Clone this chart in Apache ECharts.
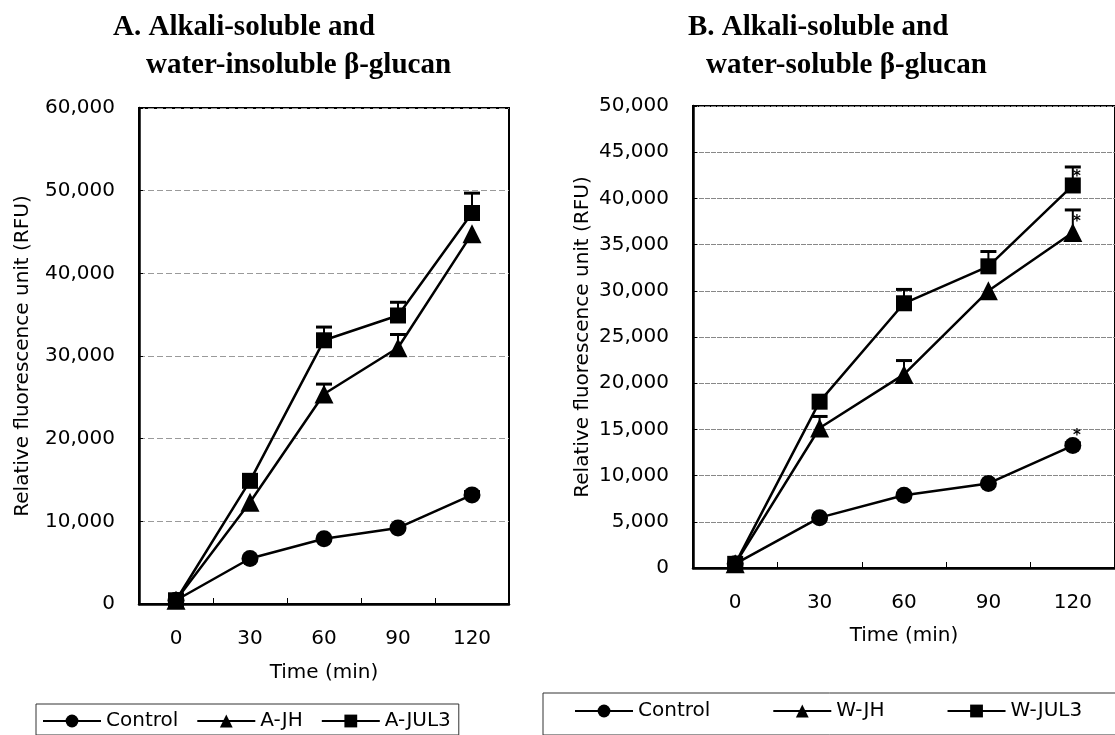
<!DOCTYPE html>
<html><head><meta charset="utf-8">
<script src="https://cdn.jsdelivr.net/npm/echarts@6/dist/echarts.min.js"></script>
<style>html,body{margin:0;padding:0;background:#fff}#c{width:1115px;height:735px}</style>
</head><body><div id="c"></div>
<script>
// ---- data ----
const TIMES = ['0', '30', '60', '90', '120'];

const A_NAMES = ['Control', 'A-JH', 'A-JUL3'];
const A_CONTROL = [450, 5500, 7900, 9200, 13200];
const A_JH = [450, 12300, 25400, 31000, 44800];
const A_JUL3 = [450, 14900, 31900, 34900, 47300];
const A_CONTROL_ERR = [0, 0, 0, 0, 400];
const A_JH_ERR = [0, 0, 1200, 1600, 0];
const A_JUL3_ERR = [0, 0, 1600, 1600, 2400];

const B_NAMES = ['Control', 'W-JH', 'W-JUL3'];
const B_CONTROL = [450, 5450, 7870, 9150, 13250];
const B_JH = [450, 15150, 20950, 30000, 36300];
const B_JUL3 = [450, 18000, 28650, 32650, 41400];
const B_CONTROL_ERR = [0, 0, 0, 0, 300];
const B_JH_ERR = [0, 1250, 1500, 0, 2450];
const B_JUL3_ERR = [0, 0, 1500, 1600, 2000];
const B_SIG = ['', '', '', '', '*'];

const A_Y_MAX = 60000, A_Y_STEP = 10000;
const B_Y_MAX = 50000, B_Y_STEP = 5000;

const TITLE_A = ['A. Alkali-soluble and', 'water-insoluble \u03b2-glucan'];
const TITLE_B = ['B. Alkali-soluble and', 'water-soluble \u03b2-glucan'];
const Y_NAME = 'Relative fluorescence unit (RFU)';
const X_NAME = 'Time (min)';

// ---- chart ----
const SANS = 'DejaVu Sans';
const SERIF = 'Liberation Serif';
const chart = echarts.init(document.getElementById('c'));

function errRender(params, api) {
  const e = api.value(2);
  if (!e) return null;
  const p0 = api.coord([api.value(0), api.value(1)]);
  const p1 = api.coord([api.value(0), api.value(1) + e]);
  const hw = 8;
  return {
    type: 'group',
    children: [
      { type: 'line', shape: { x1: p0[0], y1: p0[1], x2: p1[0], y2: p1[1] }, style: { stroke: '#000', lineWidth: 2 } },
      { type: 'line', shape: { x1: p1[0] - hw, y1: p1[1], x2: p1[0] + hw, y2: p1[1] }, style: { stroke: '#000', lineWidth: 3 } }
    ]
  };
}
function errSeries(vals, errs, idx) {
  return {
    type: 'custom', xAxisIndex: idx, yAxisIndex: idx, z: 1, silent: true,
    renderItem: errRender,
    data: vals.map((v, i) => [i, v, errs[i]])
  };
}
function lineSeries(name, vals, symbol, size, idx, sig) {
  const s = {
    name: name, type: 'line', xAxisIndex: idx, yAxisIndex: idx, z: 3,
    data: vals, symbol: symbol, symbolSize: size, showAllSymbol: true,
    lineStyle: { color: '#000', width: 2.5 },
    itemStyle: { color: '#000', borderColor: '#000', borderWidth: 0 },
    emphasis: { disabled: true }
  };
  if (sig) {
    s.label = {
      show: true, position: 'top', distance: 0, offset: [4, 7],
      formatter: p => sig[p.dataIndex], color: '#000', fontSize: 15, fontWeight: 'bold', fontFamily: SANS
    };
  }
  return s;
}
function xAxis(idx, gap) {
  return {
    type: 'category', gridIndex: idx, data: TIMES, boundaryGap: true,
    name: X_NAME, nameLocation: 'middle', nameGap: gap,
    nameTextStyle: { fontFamily: SANS, fontSize: 20, color: '#000' },
    axisLine: { show: true, lineStyle: { color: '#000', width: 2.5 } },
    axisTick: { show: true, inside: true, length: 6, lineStyle: { color: '#000', width: 1 } },
    axisLabel: { margin: 25, fontFamily: SANS, fontSize: 20, color: '#000' },
    splitLine: { show: false }
  };
}
function yAxis(idx, max, step, gap, gridColor, dash) {
  return {
    type: 'value', gridIndex: idx, min: 0, max: max, interval: step,
    name: Y_NAME, nameLocation: 'middle', nameGap: gap,
    nameTextStyle: { fontFamily: SANS, fontSize: 20, color: '#000' },
    axisLine: { show: true, lineStyle: { color: '#000', width: 2.5 } },
    axisTick: { show: true, inside: true, length: 4, lineStyle: { color: '#000' } },
    axisLabel: { margin: 24, fontFamily: SANS, fontSize: 20, color: '#000' },
    splitLine: { show: true, lineStyle: { color: gridColor, width: 1, type: dash } }
  };
}
const titleStyle = { fontFamily: SERIF, fontWeight: 'bold', fontSize: 29, color: '#000' };

chart.setOption({
  backgroundColor: '#fff',
  animation: false,
  title: [
    { text: TITLE_A[0], left: 113, top: 13, padding: 0, textStyle: titleStyle },
    { text: TITLE_A[1], left: 146, top: 51, padding: 0, textStyle: titleStyle },
    { text: TITLE_B[0], left: 688, top: 13, padding: 0, textStyle: titleStyle },
    { text: TITLE_B[1], left: 706, top: 51, padding: 0, textStyle: titleStyle }
  ],
  grid: [
    { left: 139, top: 108, width: 370, bottom: 131, show: true, borderColor: '#000', borderWidth: 2, containLabel: false },
    { left: 693, top: 106, width: 430, bottom: 167, show: true, borderColor: '#000', borderWidth: 2, containLabel: false }
  ],
  xAxis: [xAxis(0, 59), xAxis(1, 58)],
  yAxis: [yAxis(0, A_Y_MAX, A_Y_STEP, 106, '#9a9a9a', [6, 3]), yAxis(1, B_Y_MAX, B_Y_STEP, 100, '#888', [5, 1])],
  legend: [
    {
      data: A_NAMES, left: 36, top: 704, width: 440, orient: 'horizontal',
      padding: [7, 8, 4, 6], itemGap: 18, itemWidth: 58, itemHeight: 16,
      borderColor: '#333', borderWidth: 1,
      textStyle: { fontFamily: SANS, fontSize: 20, color: '#000' }
    },
    {
      data: B_NAMES, left: 543, top: 693, width: 560, orient: 'horizontal',
      padding: [8, 36, 14, 31], itemGap: 62, itemWidth: 58, itemHeight: 16,
      borderColor: '#333', borderWidth: 1,
      textStyle: { fontFamily: SANS, fontSize: 20, color: '#000' }
    }
  ],
  series: [
    errSeries(A_CONTROL, A_CONTROL_ERR, 0),
    errSeries(A_JH, A_JH_ERR, 0),
    errSeries(A_JUL3, A_JUL3_ERR, 0),
    lineSeries(A_NAMES[0], A_CONTROL, 'circle', 17, 0),
    lineSeries(A_NAMES[1], A_JH, 'triangle', 19, 0),
    lineSeries(A_NAMES[2], A_JUL3, 'rect', 16, 0),
    errSeries(B_CONTROL, B_CONTROL_ERR, 1),
    errSeries(B_JH, B_JH_ERR, 1),
    errSeries(B_JUL3, B_JUL3_ERR, 1),
    lineSeries(B_NAMES[0], B_CONTROL, 'circle', 17, 1, B_SIG),
    lineSeries(B_NAMES[1], B_JH, 'triangle', 19, 1, B_SIG),
    lineSeries(B_NAMES[2], B_JUL3, 'rect', 16, 1, B_SIG)
  ]
});
</script>
</body></html>
